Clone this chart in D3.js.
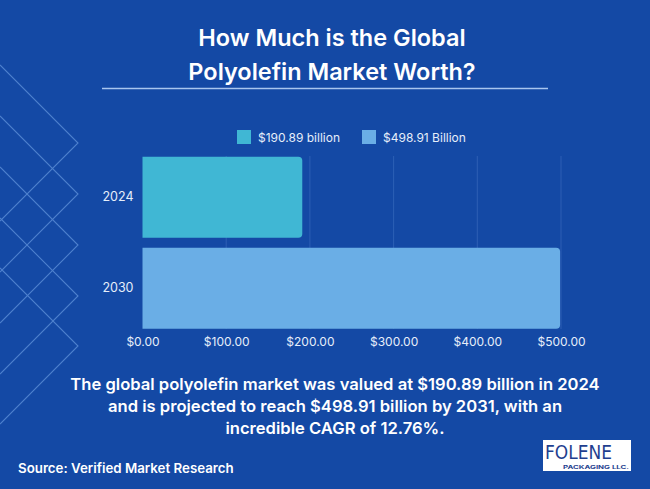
<!DOCTYPE html>
<html><head><meta charset="utf-8">
<script src="https://cdn.jsdelivr.net/npm/d3@7"></script>
<style>
html,body{margin:0;padding:0;background:#1449a5;}
svg{display:block;font-family:Inter,"DejaVu Sans",sans-serif;}
</style></head>
<body>
<svg id="chart" width="650" height="489"></svg>
<script>
const categories = ["2024", "2030"];
const values = [190.89, 498.91];
const seriesNames = ["$190.89 billion", "$498.91 Billion"];
const xTicks = [0, 100, 200, 300, 400, 500];
const titleLines = ["How Much is the Global", "Polyolefin Market Worth?"];
const noteLines = [
  "The global polyolefin market was valued at $190.89 billion in 2024",
  "and is projected to reach $498.91 billion by 2031, with an",
  "incredible CAGR of 12.76%."
];
const sourceText = "Source: Verified Market Research";
const chevronApexY = [143, 194, 245, 296, 346];

const colors = ["#40b7d4", "#6aaee6"];
const svg = d3.select("#chart");

svg.append("rect").attr("width", 650).attr("height", 489).attr("fill", "#1449a5");

// decorative chevrons
const deco = svg.append("g").attr("stroke", "#5d8fd8").attr("stroke-width", 1.1).attr("fill", "none").attr("opacity", 0.8);
chevronApexY.forEach(y => {
  deco.append("path").attr("d", `M0,${y - 78}L78,${y}L0,${y + 78}`);
});

// title
svg.append("g").selectAll("text").data(titleLines).join("text")
  .attr("x", 332).attr("y", (d, i) => 46 + i * 34)
  .attr("text-anchor", "middle").attr("fill", "#ffffff")
  .attr("font-size", 23.5).attr("font-weight", 600).text(d => d);
svg.append("line").attr("x1", 102).attr("x2", 548).attr("y1", 88.5).attr("y2", 88.5)
  .attr("stroke", "#a9c6ef").attr("stroke-width", 1.5);

// scales
const x = d3.scaleLinear().domain([0, 500]).range([142.5, 561]);
const y = d3.scaleBand().domain(categories).range([156.7, 328.7]).paddingInner(0.11).paddingOuter(0);

// gridlines
svg.append("g").selectAll("line").data(xTicks.slice(1)).join("line")
  .attr("x1", d => x(d)).attr("x2", d => x(d))
  .attr("y1", 156).attr("y2", 329)
  .attr("stroke", "#2d5fb4").attr("stroke-width", 1);

// bars with rounded right corners
const r = 4;
svg.append("g").selectAll("path").data(categories).join("path")
  .attr("fill", (d, i) => colors[i])
  .attr("d", (d, i) => {
    const x0 = x(0), x1 = x(values[i]), y0 = y(d), y1 = y(d) + y.bandwidth();
    return `M${x0},${y0}H${x1 - r}Q${x1},${y0} ${x1},${y0 + r}V${y1 - r}Q${x1},${y1} ${x1 - r},${y1}H${x0}Z`;
  });

// y axis
const yAxis = svg.append("g").attr("transform", `translate(${x(0)},0)`)
  .call(d3.axisLeft(y).tickSize(0).tickPadding(9));
yAxis.select(".domain").remove();
yAxis.selectAll("text").attr("fill", "#e6eefa").attr("font-size", 12.5).attr("font-family", "Inter, sans-serif");

// x axis
const xAxis = svg.append("g").attr("transform", `translate(0,329)`)
  .call(d3.axisBottom(x).tickValues(xTicks).tickSize(0).tickPadding(8).tickFormat(d => "$" + d3.format(".2f")(d)));
xAxis.select(".domain").remove();
xAxis.selectAll("text").attr("fill", "#e6eefa").attr("font-size", 12).attr("font-family", "Inter, sans-serif");

// legend
const leg = svg.append("g");
const legX = [237, 362];
seriesNames.forEach((name, i) => {
  leg.append("rect").attr("x", legX[i]).attr("y", 130).attr("width", 14).attr("height", 14).attr("fill", colors[i]);
  leg.append("text").attr("x", legX[i] + 21).attr("y", 141.5).attr("fill", "#e6eefa")
    .attr("font-size", 12).text(name);
});

// note
svg.append("g").selectAll("text").data(noteLines).join("text")
  .attr("x", 335).attr("y", (d, i) => 390 + i * 22)
  .attr("text-anchor", "middle").attr("fill", "#ffffff")
  .attr("font-size", 16.6).attr("font-weight", 600).text(d => d);

svg.append("text").attr("x", 18).attr("y", 473).attr("fill", "#ffffff")
  .attr("font-size", 13.3).attr("font-weight", 600).text(sourceText);

// logo
const logo = svg.append("g");
logo.append("rect").attr("x", 543).attr("y", 440).attr("width", 88).attr("height", 31).attr("fill", "#ffffff");
logo.append("text").attr("x", 545).attr("y", 459).attr("fill", "#1f3f8f").attr("font-size", 19)
  .attr("font-family", "'Liberation Sans Narrow', 'DejaVu Sans Condensed', sans-serif").attr("textLength", 67)
  .attr("lengthAdjust", "spacingAndGlyphs").text("FOLENE");
logo.append("text").attr("x", 563).attr("y", 469).attr("fill", "#1f3f8f").attr("font-size", 5)
  .attr("font-weight", 700).attr("textLength", 66).attr("lengthAdjust", "spacingAndGlyphs").text("PACKAGING LLC.");
</script>
</body></html>
